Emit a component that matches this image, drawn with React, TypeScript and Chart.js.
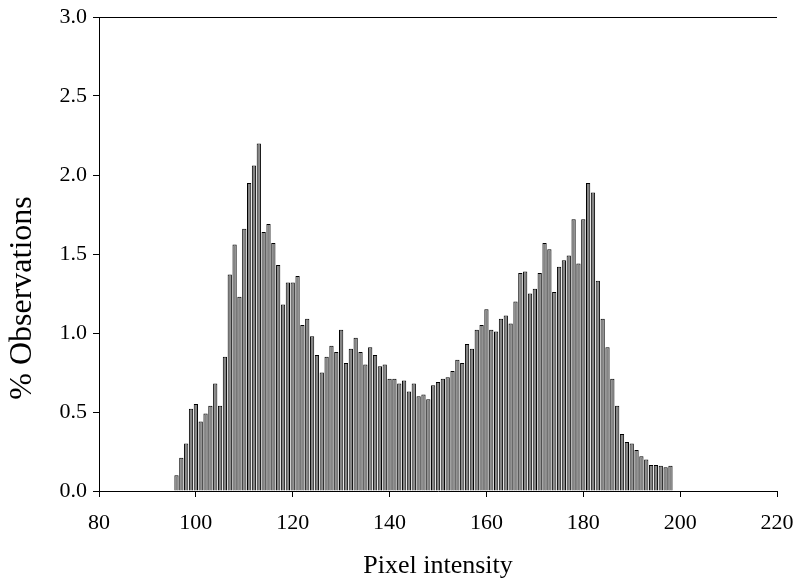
import React, { useEffect, useRef } from "react";
import { Chart, registerables } from "chart.js";

Chart.register(...registerables);

const intensities: number[] = [
  96, 97, 98, 99, 100, 101, 102, 103, 104, 105, 106, 107, 108, 109, 110, 111, 112, 113,
  114, 115, 116, 117, 118, 119, 120, 121, 122, 123, 124, 125, 126, 127, 128, 129, 130,
  131, 132, 133, 134, 135, 136, 137, 138, 139, 140, 141, 142, 143, 144, 145, 146, 147,
  148, 149, 150, 151, 152, 153, 154, 155, 156, 157, 158, 159, 160, 161, 162, 163, 164,
  165, 166, 167, 168, 169, 170, 171, 172, 173, 174, 175, 176, 177, 178, 179, 180, 181,
  182, 183, 184, 185, 186, 187, 188, 189, 190, 191, 192, 193, 194, 195, 196, 197, 198,
];

const observations: number[] = [
  0.10, 0.21, 0.30, 0.52, 0.55, 0.44, 0.49, 0.54, 0.68, 0.54, 0.85, 1.37, 1.56, 1.23, 1.66, 1.95, 2.06, 2.20,
  1.64, 1.69, 1.57, 1.43, 1.18, 1.32, 1.32, 1.36, 1.05, 1.09, 0.98, 0.86, 0.75, 0.85, 0.92, 0.88, 1.02,
  0.81, 0.90, 0.97, 0.88, 0.80, 0.91, 0.86, 0.79, 0.80, 0.71, 0.71, 0.68, 0.70, 0.63, 0.68, 0.60, 0.61,
  0.58, 0.67, 0.69, 0.71, 0.72, 0.76, 0.83, 0.81, 0.93, 0.90, 1.02, 1.05, 1.15, 1.02, 1.01, 1.09, 1.11,
  1.06, 1.20, 1.38, 1.39, 1.25, 1.28, 1.38, 1.57, 1.53, 1.26, 1.42, 1.46, 1.49, 1.72, 1.44, 1.72, 1.95,
  1.89, 1.33, 1.09, 0.91, 0.71, 0.54, 0.36, 0.31, 0.30, 0.26, 0.22, 0.20, 0.165, 0.165, 0.16, 0.15, 0.16,
];

const xTickValues: number[] = [80, 100, 120, 140, 160, 180, 200, 220];
const yTickValues: number[] = [0, 0.5, 1.0, 1.5, 2.0, 2.5, 3.0];

const xTitle = "Pixel intensity";
const yTitle = "% Observations";

const SERIF = "'Liberation Serif', 'Times New Roman', serif";

const framePlugin = {
  id: "frameAndTitle",
  afterDraw(chart: any) {
    const { ctx, chartArea } = chart;
    ctx.save();
    ctx.strokeStyle = "#000";
    ctx.lineWidth = 1;
    ctx.beginPath();
    ctx.moveTo(chartArea.left, Math.round(chartArea.top) + 0.5);
    ctx.lineTo(chartArea.right, Math.round(chartArea.top) + 0.5);
    ctx.stroke();
    // y-axis title
    ctx.translate(23, 298);
    ctx.rotate(-Math.PI / 2);
    ctx.fillStyle = "#000";
    ctx.font = "32px " + SERIF;
    ctx.textAlign = "center";
    ctx.textBaseline = "middle";
    ctx.fillText(yTitle, 0, 0);
    ctx.restore();
  },
};

export default function App() {
  const canvasRef = useRef<HTMLCanvasElement | null>(null);

  useEffect(() => {
    if (!canvasRef.current) return;
    const points = intensities.map((x, i) => ({ x, y: observations[i] }));
    const chart = new Chart(canvasRef.current, {
      type: "bar",
      data: {
        datasets: [
          {
            data: points as any,
            backgroundColor: "#858585",
            borderColor: "#000",
            borderWidth: 1,
            barPercentage: 0.88,
            categoryPercentage: 1,
          },
        ],
      },
      options: {
        animation: false,
        responsive: true,
        maintainAspectRatio: false,
        layout: { padding: { left: 0, top: 17, right: 25, bottom: 0 } },
        plugins: {
          legend: { display: false },
          tooltip: { enabled: false },
        },
        scales: {
          x: {
            type: "linear",
            offset: false,
            min: 80,
            max: 220,
            afterBuildTicks: (scale: any) => {
              scale.ticks = xTickValues.map((v) => ({ value: v }));
            },
            afterFit: (scale: any) => {
              scale.height = 91;
              scale.paddingLeft = 0;
              scale.paddingRight = 0;
            },
            ticks: {
              color: "#000",
              font: { family: SERIF, size: 22 },
              padding: 13,
              maxRotation: 0,
              autoSkip: false,
              callback: (v: any) => String(v),
            },
            grid: {
              display: true,
              offset: false,
              drawOnChartArea: false,
              drawTicks: true,
              tickLength: 6,
              color: "#000",
            },
            border: { display: true, color: "#000", width: 1 },
            title: {
              display: true,
              text: xTitle,
              color: "#000",
              font: { family: SERIF, size: 26 },
              padding: { top: 0, bottom: 0 },
            },
          },
          y: {
            type: "linear",
            min: 0,
            max: 3,
            afterBuildTicks: (scale: any) => {
              scale.ticks = yTickValues.map((v) => ({ value: v }));
            },
            afterFit: (scale: any) => {
              scale.width = 99;
              scale.paddingTop = 0;
              scale.paddingBottom = 0;
            },
            ticks: {
              color: "#000",
              font: { family: SERIF, size: 22 },
              padding: 6,
              autoSkip: false,
              callback: (v: any) => Number(v).toFixed(1),
            },
            grid: {
              display: true,
              drawOnChartArea: false,
              drawTicks: true,
              tickLength: 6,
              color: "#000",
            },
            border: { display: true, color: "#000", width: 1 },
            title: { display: false },
          },
        },
      },
      plugins: [framePlugin],
    });
    return () => chart.destroy();
  }, []);

  return (
    <div style={{ position: "fixed", left: 0, top: 0, width: 802, height: 582, background: "#fff" }}>
      <canvas ref={canvasRef} />
    </div>
  );
}
